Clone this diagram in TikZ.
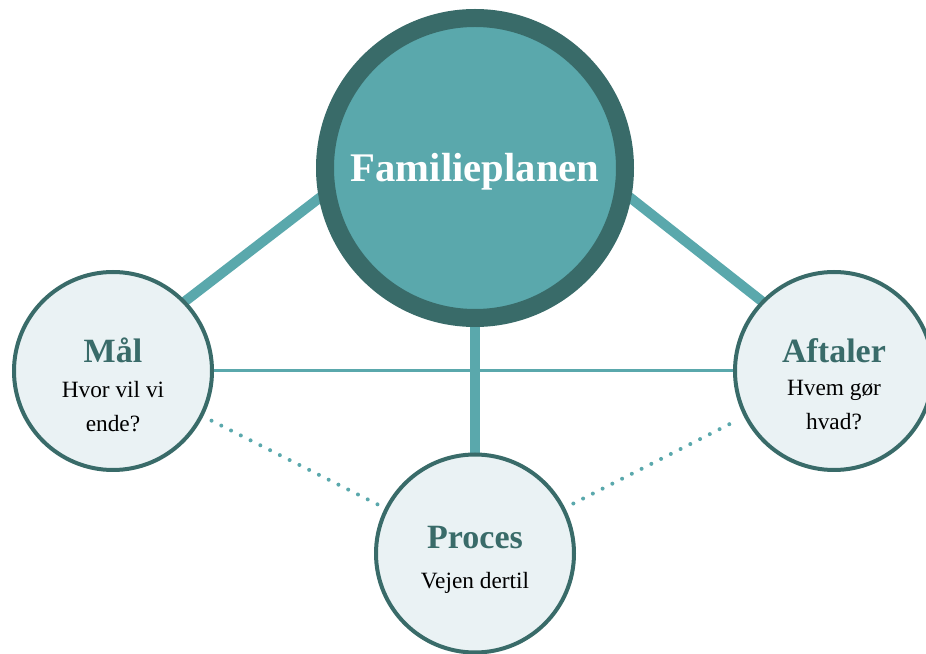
\documentclass[tikz,border=0pt]{standalone}
\usepackage{fontspec}
\setmainfont{Liberation Serif}
\usetikzlibrary{calc}
\usetikzlibrary{backgrounds}

\definecolor{plandark}{HTML}{396B69}
\definecolor{planteal}{HTML}{5AA8AC}
\definecolor{planlight}{HTML}{EAF2F4}

\tikzset{
  bigcircle/.style={circle,draw=plandark,fill=planteal,line width=13.5pt,minimum size=225pt,inner sep=0pt},
  smallcircle/.style={circle,draw=plandark,fill=planlight,line width=3pt,minimum size=148.5pt,inner sep=0pt},
  thickline/.style={draw=planteal,line width=7.5pt,shorten <=-8pt,shorten >=-8pt},
  thinline/.style={draw=planteal,line width=2.25pt},
  dotline/.style={draw=planteal,line width=3pt,line cap=round,dash pattern=on 0pt off 8.2pt,shorten <=7pt,shorten >=6pt},
  titletext/.style={font=\fontsize{25.5}{28}\selectfont\bfseries,text=plandark,anchor=base,inner sep=0pt},
  bodytext/.style={font=\fontsize{17.5}{25.5}\selectfont,align=center,anchor=base,inner sep=0pt},
}

\begin{document}
\begin{tikzpicture}[x=0.75pt,y=0.75pt]
        \useasboundingbox (0,0) rectangle (926,654);
        \def\titleup{8};
        \def\bodydown{61};
        % circles
        \node[bigcircle] (plan) at (475,486) {};
        \node[smallcircle] (maal) at (113,283) {};
        \node[smallcircle] (aftaler) at (834,283) {};
        \node[smallcircle] (proces) at (475,100.5) {};
        % texts (base of a two-line text is its last line)
        \node[font=\fontsize{30.5}{34}\selectfont\bfseries,text=white,anchor=base,inner sep=0pt] (plan-title) at ($(plan.center)+(0,-14)$) {Familieplanen};
        \node[titletext] (maal-title) at ($(maal.center)+(0,\titleup)$) {Mål};
        \node[bodytext] (maal-text) at ($(maal.center)+(0,-\bodydown)$) {Hvor vil vi\\ende?};
        \node[titletext] (aftaler-title) at ($(aftaler.center)+(0,\titleup)$) {Aftaler};
        \node[bodytext] (aftaler-text) at ($(aftaler.center)+(0,-\bodydown+2)$) {Hvem gør\\hvad?};
        \node[titletext] (proces-title) at ($(proces.center)+(0,5)$) {Proces};
        \node[bodytext] (proces-text) at ($(proces.center)+(0,-35)$) {Vejen dertil};
        % connections
        \begin{scope}[on background layer]
                \draw[thinline] (maal) -- (aftaler);
                \draw[thickline] (plan.191) -- (maal.44);
                \draw[thickline] (plan.349) -- (aftaler.136);
                \draw[thickline] (plan) -- (proces);
                \draw[dotline] (maal) -- (proces);
                \draw[dotline] (proces) -- (aftaler);
        \end{scope}
\end{tikzpicture}
\end{document}
